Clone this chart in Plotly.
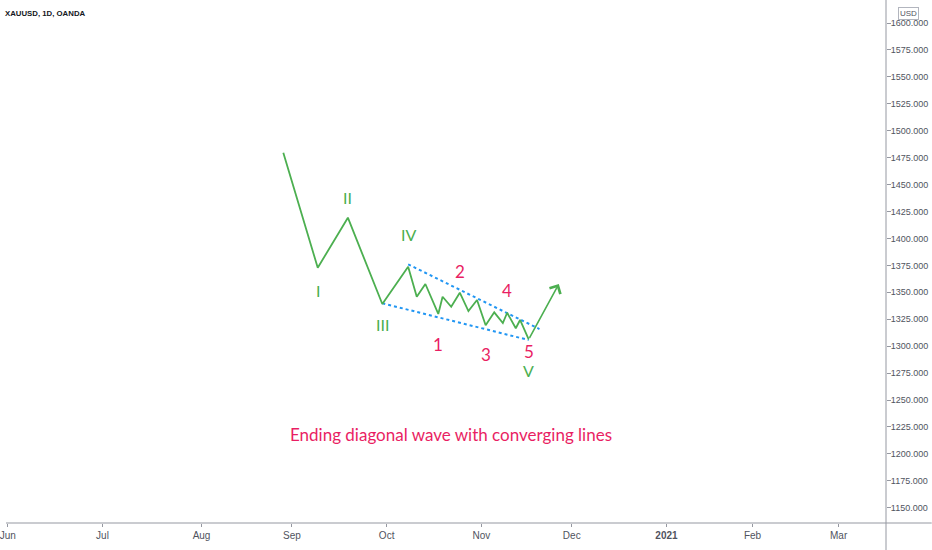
import plotly.graph_objects as go

# ---- data ----
wave_dates = ["2020-08-28", "2020-09-09", "2020-09-18", "2020-09-30", "2020-10-08",
              "2020-10-12", "2020-10-14", "2020-10-19", "2020-10-20", "2020-10-22",
              "2020-10-26", "2020-10-28", "2020-10-30", "2020-11-03", "2020-11-05",
              "2020-11-09", "2020-11-10", "2020-11-12", "2020-11-13", "2020-11-17"]
wave_prices = [1479.6, 1372.8, 1419.3, 1339.1, 1373.8,
               1345.9, 1357.7, 1329.9, 1345.9, 1336.6,
               1349.6, 1332.6, 1342.9, 1319.4, 1331.4,
               1321.5, 1331.0, 1316.6, 1324.3, 1306.4]
arrow_end_date = "2020-11-26"
arrow_end_price = 1357.7

upper_line_dates = ["2020-10-08", "2020-11-19 12:00"]
upper_line_prices = [1376.0, 1315.9]
lower_line_dates = ["2020-09-30", "2020-11-17"]
lower_line_prices = [1339.8, 1305.7]

major_labels = ["I", "II", "III", "IV", "V"]
major_label_dates = ["2020-09-09", "2020-09-18", "2020-09-30", "2020-10-08", "2020-11-17"]
major_label_prices = [1352.0, 1438.0, 1320.5, 1404.0, 1277.5]

minor_labels = ["1", "2", "3", "4", "5"]
minor_label_dates = ["2020-10-19", "2020-10-26", "2020-11-03", "2020-11-10", "2020-11-17"]
minor_label_prices = [1301.7, 1369.0, 1291.8, 1352.0, 1295.5]

caption = "Ending diagonal wave with converging lines"
caption_date = "2020-10-22"
caption_price = 1218.4

x_tick_vals = ["2020-06-01", "2020-07-01", "2020-08-03", "2020-09-01", "2020-10-01",
               "2020-11-02", "2020-12-01", "2021-01-04", "2021-02-01", "2021-03-01"]
x_tick_text = ["Jun", "Jul", "Aug", "Sep", "Oct", "Nov", "Dec", "<b>2021</b>", "Feb", "Mar"]
y_tick_vals = [1150, 1175, 1200, 1225, 1250, 1275, 1300, 1325, 1350, 1375, 1400,
               1425, 1450, 1475, 1500, 1525, 1550, 1575, 1600]
holidays = ["2020-12-25", "2021-01-01"]

GREEN = "#4caf50"
PINK = "#e91e63"
BLUE = "#2196f3"
LABEL_FONT = "Lato, Noto Sans, sans-serif"
AXIS_FONT = "Liberation Sans, Arial, sans-serif"

fig = go.Figure()
fig.add_trace(go.Scatter(x=upper_line_dates, y=upper_line_prices, mode="lines",
                         line=dict(color=BLUE, width=2, dash="dot"), hoverinfo="skip"))
fig.add_trace(go.Scatter(x=lower_line_dates, y=lower_line_prices, mode="lines",
                         line=dict(color=BLUE, width=2, dash="dot"), hoverinfo="skip"))
fig.add_trace(go.Scatter(x=wave_dates, y=wave_prices, mode="lines",
                         line=dict(color=GREEN, width=1.8), hoverinfo="skip"))

# final leg with open arrow head
fig.add_annotation(x=arrow_end_date, y=arrow_end_price, ax=wave_dates[-1], ay=wave_prices[-1],
                   xref="x", yref="y", axref="x", ayref="y", text="", showarrow=True,
                   arrowhead=4, arrowsize=1.5, arrowwidth=1.6, arrowcolor=GREEN)

for t, d, p in zip(major_labels, major_label_dates, major_label_prices):
    fig.add_annotation(x=d, y=p, text=t, showarrow=False,
                       font=dict(family=LABEL_FONT, size=16, color=GREEN))
for t, d, p in zip(minor_labels, minor_label_dates, minor_label_prices):
    fig.add_annotation(x=d, y=p, text=t, showarrow=False,
                       font=dict(family=LABEL_FONT, size=17, color=PINK))

fig.add_annotation(x=caption_date, y=caption_price, text=caption, showarrow=False,
                   font=dict(family=LABEL_FONT, size=17, color=PINK))

# header
fig.add_annotation(xref="paper", yref="paper", x=0, y=1 - 14 / 523, text="<b>XAUUSD, 1D, OANDA</b>",
                   showarrow=False, xanchor="left", yanchor="middle", xshift=-3,
                   font=dict(family=AXIS_FONT, size=7.8, color="#131722"))
fig.add_annotation(xref="paper", yref="paper", x=909 / 886, y=1 - 13 / 523, text="USD",
                   showarrow=False, xanchor="center", yanchor="middle",
                   font=dict(family=AXIS_FONT, size=8, color="#50535e"),
                   bgcolor="white", bordercolor="#b2b5be", borderwidth=1, borderpad=1)

# pane separators
fig.add_shape(type="line", xref="paper", yref="paper", x0=0, x1=932 / 886, y0=0, y1=0,
              line=dict(color="#9598a1", width=1))
fig.add_shape(type="line", xref="paper", yref="paper", x0=1, x1=1, y0=-27 / 523, y1=1,
              line=dict(color="#9598a1", width=1))

fig.update_layout(
    width=932, height=550,
    margin=dict(l=0, r=46, t=0, b=27),
    paper_bgcolor="white", plot_bgcolor="white",
    showlegend=False,
    xaxis=dict(type="date", range=["2020-05-29 14:00", "2021-03-16 00:00"],
               rangebreaks=[dict(bounds=["sat", "mon"]), dict(values=holidays)],
               tickvals=x_tick_vals, ticktext=x_tick_text, ticklabeloverflow="allow",
               showgrid=False, zeroline=False, showline=False,
               ticks="outside", ticklen=3, tickcolor="#9598a1",
               tickfont=dict(family=AXIS_FONT, size=10, color="#50535e")),
    yaxis=dict(side="right", range=[1135.8, 1621.4], tickvals=y_tick_vals, tickformat=".3f",
               showgrid=False, zeroline=False, showline=False, ticklabeloverflow="allow",
               ticks="outside", ticklen=4, tickcolor="#9598a1", ticklabelstandoff=-2,
               tickfont=dict(family=AXIS_FONT, size=9, color="#50535e")),
)

fig.write_html("out.html", config={"displayModeBar": False},
               post_script="document.body.style.margin='0';")
